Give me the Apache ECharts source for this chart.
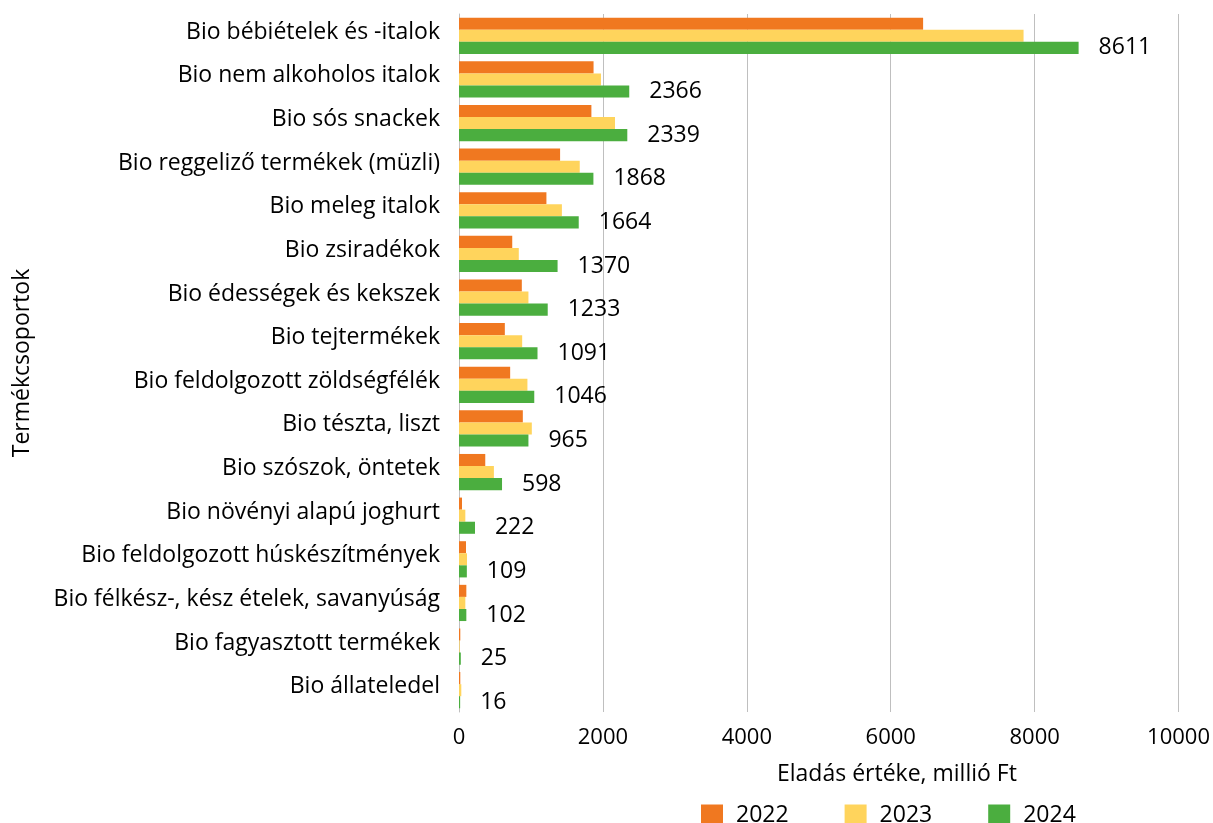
<!DOCTYPE html>
<html>
<head>
<meta charset="utf-8">
<script src="https://cdn.jsdelivr.net/npm/echarts@6/dist/echarts.min.js"></script>
<style>html,body{margin:0;padding:0;background:#fff}#c{width:1213px;height:823px}</style>
</head>
<body>
<div id="c"></div>
<script>
const categories = [
  "Bio bébiételek és -italok",
  "Bio nem alkoholos italok",
  "Bio sós snackek",
  "Bio reggeliző termékek (müzli)",
  "Bio meleg italok",
  "Bio zsiradékok",
  "Bio édességek és kekszek",
  "Bio tejtermékek",
  "Bio feldolgozott zöldségfélék",
  "Bio tészta, liszt",
  "Bio szószok, öntetek",
  "Bio növényi alapú joghurt",
  "Bio feldolgozott húskészítmények",
  "Bio félkész-, kész ételek, savanyúság",
  "Bio fagyasztott termékek",
  "Bio állateledel"
];
const values2022 = [6450, 1870, 1840, 1405, 1215, 740, 873, 637, 711, 887, 365, 42, 97, 102, 18, 18];
const values2023 = [7846, 1973, 2168, 1678, 1430, 831, 965, 878, 951, 1012, 485, 88, 111, 88, 9, 32];
const values2024 = [8611, 2366, 2339, 1868, 1664, 1370, 1233, 1091, 1046, 965, 598, 222, 109, 102, 25, 16];
const seriesNames = ["2022", "2023", "2024"];
const xTicks = { min: 0, max: 10000, interval: 2000 };

const FONT = "Open Sans";
const FS = 23;
const FS_NUM = 22;
const colors = ["#F07820", "#FFD45C", "#4BAE3F"];

const chart = echarts.init(document.getElementById('c'));
chart.setOption({
  animation: false,
  textStyle: { fontFamily: FONT },
  color: colors,
  grid: { left: 459, right: 32, top: 14, bottom: 111, containLabel: false },
  legend: {
    data: seriesNames,
    left: 696, top: 799,
    itemWidth: 22, itemHeight: 22, itemGap: 56,
    icon: 'rect',
    textStyle: { fontFamily: FONT, fontSize: FS, color: '#000', padding: [0, 0, 0, 8] }
  },
  xAxis: {
    type: 'value',
    min: xTicks.min, max: xTicks.max, interval: xTicks.interval,
    axisLine: { show: false },
    axisTick: { show: false },
    splitLine: { lineStyle: { color: '#BFBFBF', width: 1 } },
    axisLabel: { fontFamily: FONT, fontSize: FS_NUM, color: '#000', margin: 15, formatter: v => String(v) }
  },
  yAxis: {
    type: 'category',
    inverse: true,
    data: categories,
    name: 'Termékcsoportok',
    nameLocation: 'middle',
    nameGap: 425,
    nameRotate: 90,
    nameTextStyle: { fontFamily: FONT, fontSize: FS, color: '#000' },
    axisLine: { show: true, lineStyle: { color: '#BFBFBF', width: 1 } },
    axisTick: { show: false },
    axisLabel: {
      fontFamily: FONT, fontSize: FS, color: '#000', margin: 19,
      formatter: v => '{a|' + v + '}',
      rich: { a: { fontFamily: FONT, fontSize: FS, color: '#000', padding: [0, 0, 7, 0] } }
    }
  },
  graphic: [{
    type: 'text',
    left: 777, top: 763,
    style: { text: 'Eladás értéke, millió Ft', font: FS + 'px "' + FONT + '"', fill: '#000' }
  }],
  series: [
    { name: seriesNames[0], type: 'bar', data: values2022, barGap: '0%', barCategoryGap: '17%' },
    { name: seriesNames[1], type: 'bar', data: values2023, barGap: '0%', barCategoryGap: '17%' },
    { name: seriesNames[2], type: 'bar', data: values2024, barGap: '0%', barCategoryGap: '17%',
      label: { show: true, position: 'right', distance: 20, fontFamily: FONT, fontSize: FS, color: '#000' } }
  ]
});
</script>
</body>
</html>
